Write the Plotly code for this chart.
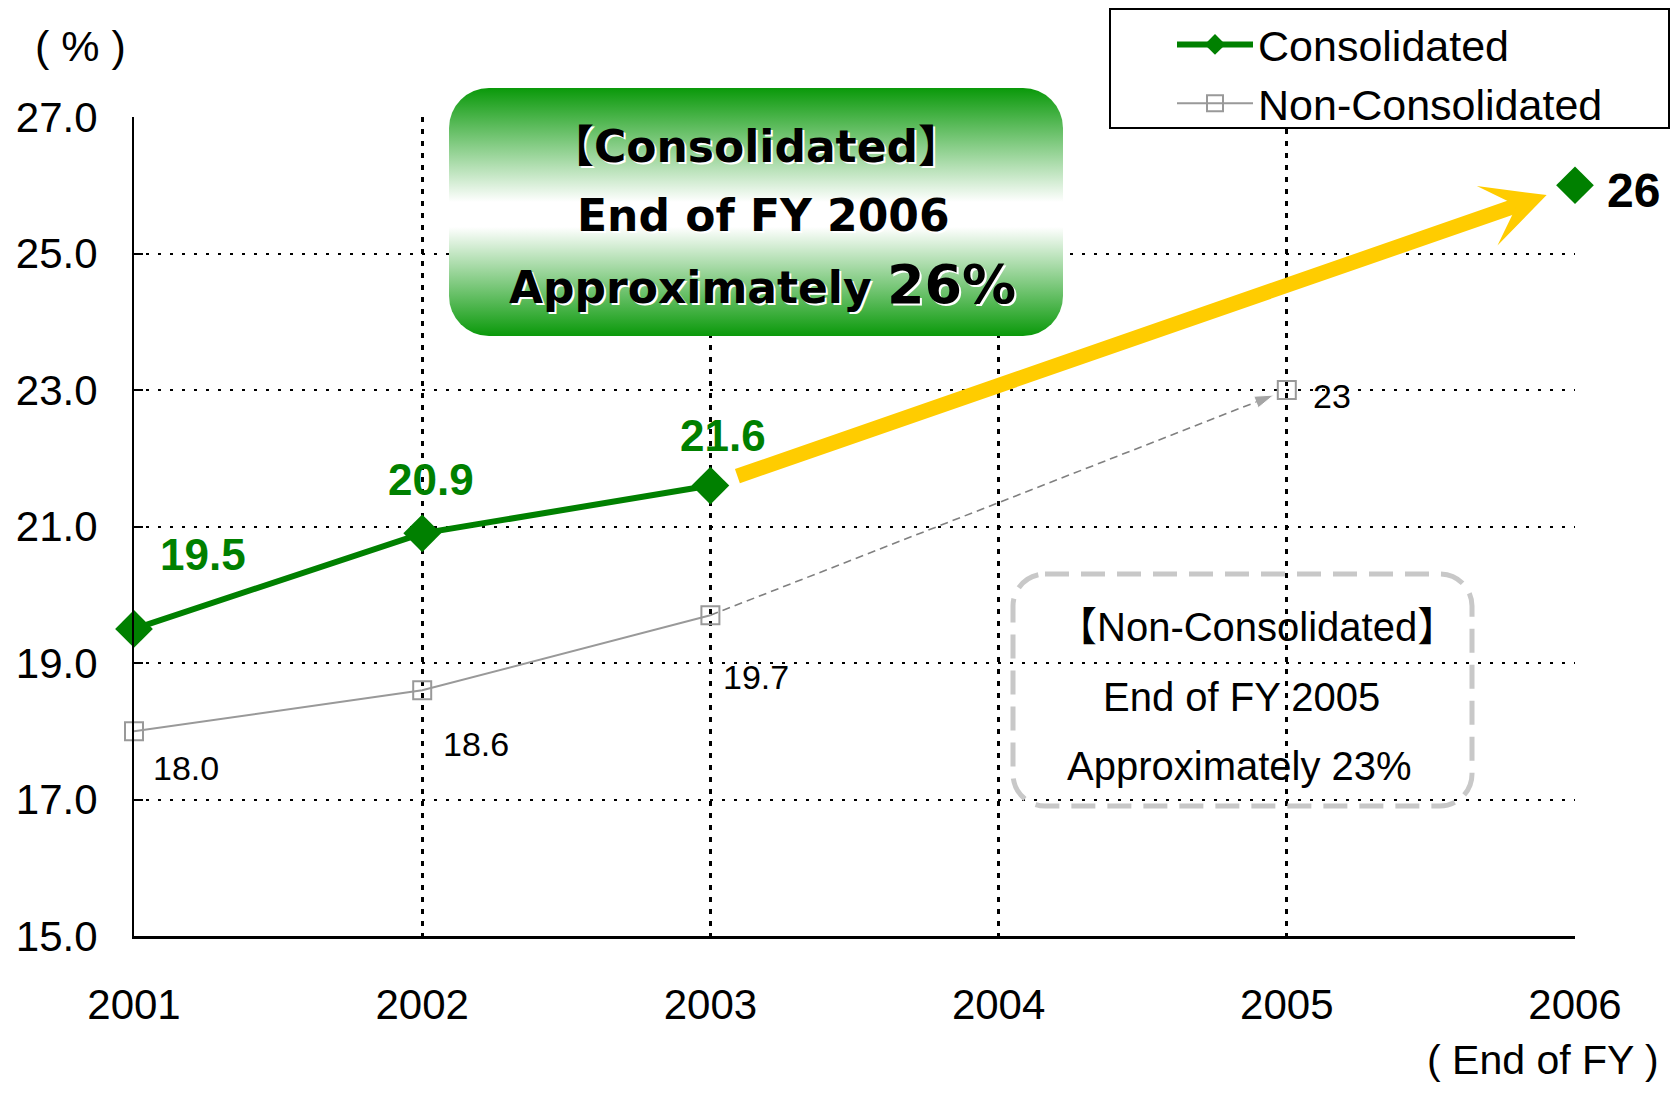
import base64
import plotly.graph_objects as go

# ---------------- data ----------------
years = [2001, 2002, 2003, 2004, 2005, 2006]
year_labels = ["2001", "2002", "2003", "2004", "2005", "2006"]
consolidated = [19.5, 20.9, 21.6, None, None, 26.0]
non_consolidated = [18.0, 18.6, 19.7, None, 23.0, None]
cons_labels = ["19.5", "20.9", "21.6", None, None, "26"]
non_labels = ["18.0", "18.6", "19.7", None, "23", None]
y_ticks = [15, 17, 19, 21, 23, 25, 27]

# ---------------- layout geometry (page pixels) ----------------
O = 8                      # page body margin
W, H = 1678 - 2 * O, 1093 - 2 * O
X0, X1, Y0, Y1 = 134, 1575, 117, 936   # plot area on the page
L, T = X0 - O, Y0 - O
R, B = (W + O) - X1, (H + O) - Y1
PW, PH = X1 - X0, Y1 - Y0


def xp(px):
    return (px - X0) / PW


def yp(py):
    return (Y1 - py) / PH


SANS = "Liberation Sans, Arial, Noto Sans CJK JP, sans-serif"
WIDE = "DejaVu Sans, Noto Sans CJK JP, sans-serif"
GREEN = "#008000"
GRAY = "#999999"

fig = go.Figure()

fig.add_trace(go.Scatter(
    x=years, y=consolidated, name="Consolidated", mode="lines+markers",
    line=dict(color=GREEN, width=6), connectgaps=False,
    marker=dict(symbol="diamond", size=29, color=GREEN),
    cliponaxis=False,
))

fig.add_trace(go.Scatter(
    x=years, y=non_consolidated, name="Non-Consolidated", mode="lines+markers",
    line=dict(color=GRAY, width=2), connectgaps=False,
    marker=dict(symbol="square-open", size=18, color=GRAY, line=dict(width=2)),
    cliponaxis=False,
))

# dashed projection 2003 -> 2005 with arrow head
fig.add_trace(go.Scatter(
    x=[years[2], years[4]], y=[non_consolidated[2], non_consolidated[4]],
    mode="lines+markers", showlegend=False,
    line=dict(color="#808080", width=1.6, dash="8px,5px"),
    marker=dict(symbol="arrow", size=[0, 20], color="#808080",
                angleref="previous", standoff=14),
    cliponaxis=False,
))

annotations = []

# yellow arrow 2003 -> 2006
annotations.append(dict(
    x=years[5], y=consolidated[5], ax=years[2], ay=consolidated[2],
    xref="x", yref="y", axref="x", ayref="y", text="", showarrow=True,
    arrowhead=3, arrowsize=0.7, arrowwidth=15, arrowcolor="#FFCC00",
    standoff=30, startstandoff=27,
))

cons_shift = [(69, 74), (9, 54), (13, 50), None, None, (58, -5)]
for i, (v, t) in enumerate(zip(consolidated, cons_labels)):
    if v is None:
        continue
    big = i == 5
    annotations.append(dict(
        x=years[i], y=v, xref="x", yref="y", text=t, showarrow=False,
        xanchor="center", yanchor="middle",
        xshift=cons_shift[i][0], yshift=cons_shift[i][1],
        font=dict(family=SANS, size=48 if big else 44,
                  color="#000000" if big else GREEN, weight="bold"),
    ))

non_shift = [(52, -37), (54, -54), (46, -62), None, (45, -6), None]
for i, (v, t) in enumerate(zip(non_consolidated, non_labels)):
    if v is None:
        continue
    annotations.append(dict(
        x=years[i], y=v, xref="x", yref="y", text=t, showarrow=False,
        xanchor="center", yanchor="middle",
        xshift=non_shift[i][0], yshift=non_shift[i][1],
        font=dict(family=SANS, size=34, color="#000000"),
    ))


def paper_text(txt, cx, cy, font, xanchor="center"):
    annotations.append(dict(
        x=xp(cx), y=yp(cy), xref="paper", yref="paper", text=txt,
        xanchor=xanchor, yanchor="middle", showarrow=False, font=font,
    ))


paper_text("( % )", 80, 46, dict(family=SANS, size=43, color="#000"))
paper_text("( End of FY )", 1661, 1060, dict(family=SANS, size=41, color="#000"),
           xanchor="right")

shadow = "2px 2px 0px #ffffff"
bold_wide = dict(family=WIDE, size=44, color="#000", weight="bold", shadow=shadow)
paper_text("【Consolidated】", 756, 146, bold_wide)
paper_text("End of FY 2006", 763, 215, bold_wide)
paper_text("Approximately <span style='font-size:54px'>26%</span>", 762, 284, bold_wide)

reg = dict(family=SANS, size=40, color="#000")
paper_text("【Non-Consolidated】", 1257, 627, reg)
paper_text("End of FY 2005", 1241, 697, reg)
paper_text("Approximately 23%", 1239, 766, reg)

# ---------------- background boxes as svg images ----------------
gx0, gy0, gx1, gy1 = 449, 88, 1063, 336
gw, gh = gx1 - gx0, gy1 - gy0
green_svg = (
    f'<svg xmlns="http://www.w3.org/2000/svg" width="{gw}" height="{gh}" viewBox="0 0 {gw} {gh}">'
    '<defs><linearGradient id="g" x1="0" y1="0" x2="0" y2="1">'
    '<stop offset="0" stop-color="#0a990a"/>'
    '<stop offset="0.46" stop-color="#ffffff"/>'
    '<stop offset="0.56" stop-color="#ffffff"/>'
    '<stop offset="1" stop-color="#0a990a"/>'
    '</linearGradient></defs>'
    f'<rect x="0" y="0" width="{gw}" height="{gh}" rx="40" ry="40" fill="url(#g)"/></svg>'
)
nx0, ny0, nx1, ny1 = 1010, 571, 1475, 809
nw, nh = nx1 - nx0, ny1 - ny0
dash_svg = (
    f'<svg xmlns="http://www.w3.org/2000/svg" width="{nw}" height="{nh}" viewBox="0 0 {nw} {nh}">'
    f'<rect x="3" y="3" width="{nw - 6}" height="{nh - 6}" rx="32" ry="32" fill="none" '
    'stroke="#c8c8c8" stroke-width="5" stroke-dasharray="24,12"/></svg>'
)


def uri(svg):
    return "data:image/svg+xml;base64," + base64.b64encode(svg.encode()).decode()


images = [
    dict(source=uri(green_svg), xref="paper", yref="paper", x=xp(gx0), y=yp(gy0),
         sizex=gw / PW, sizey=gh / PH, xanchor="left", yanchor="top",
         sizing="stretch", layer="above"),
    dict(source=uri(dash_svg), xref="paper", yref="paper", x=xp(nx0), y=yp(ny0),
         sizex=nw / PW, sizey=nh / PH, xanchor="left", yanchor="top",
         sizing="stretch", layer="above"),
]

# legend frame (wider than plotly's auto-sized legend box)
shapes = [dict(
    type="rect", xref="paper", yref="paper",
    x0=xp(1110), x1=xp(1669), y0=yp(128), y1=yp(9),
    line=dict(color="#000", width=2), fillcolor="white", layer="above",
)]

fig.update_layout(
    width=W, height=H, autosize=False,
    margin=dict(l=L, r=R, t=T, b=B, pad=0, autoexpand=False),
    paper_bgcolor="white", plot_bgcolor="white",
    showlegend=True,
    legend=dict(
        x=xp(1110), y=yp(10), xanchor="left", yanchor="top",
        borderwidth=0, bgcolor="rgba(0,0,0,0)",
        font=dict(family=SANS, size=43, color="#000"),
        itemwidth=76, tracegroupgap=0, indentation=62,
    ),
    annotations=annotations,
    images=images,
    shapes=shapes,
    xaxis=dict(
        range=[years[0], years[-1]], tickvals=years, ticktext=year_labels,
        showgrid=True, gridcolor="#000", gridwidth=2.5, griddash="5px,7px",
        showline=True, linecolor="#000", linewidth=3, zeroline=False,
        ticks="", ticklabelstandoff=30, automargin=False,
        tickfont=dict(family=SANS, size=42, color="#000"),
    ),
    yaxis=dict(
        range=[y_ticks[0], y_ticks[-1]], tickvals=y_ticks, tickformat=".1f",
        showgrid=True, gridcolor="#000", gridwidth=1.5, griddash="3px,9px",
        showline=True, linecolor="#000", linewidth=2, zeroline=False,
        ticks="inside", ticklen=9, tickwidth=2, tickcolor="#000",
        ticklabelstandoff=26, automargin=False,
        tickfont=dict(family=SANS, size=42, color="#000"),
    ),
)

fig.write_html("out.html")
